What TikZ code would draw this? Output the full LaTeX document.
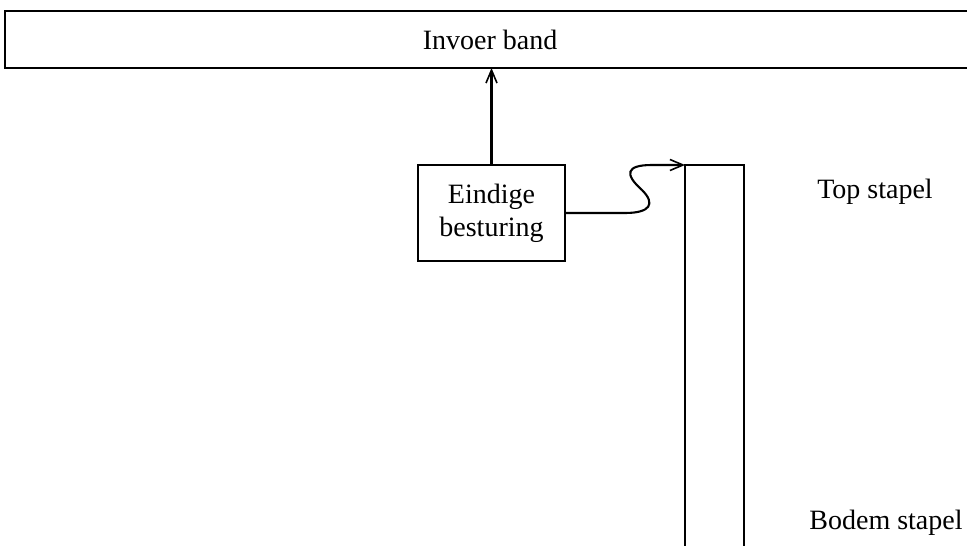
\documentclass[tikz,border=0pt]{standalone}
\usepackage{fontspec}
\setmainfont{Liberation Serif}
\usetikzlibrary{arrows.meta}
\begin{document}
\begin{tikzpicture}[x=1pt,y=-1pt,
  every node/.style={font=\fontsize{28}{33}\selectfont},
  ln/.style={line width=2.1pt},
  arr/.style={ln,-{Straight Barb[length=13pt,width=11pt,line width=1.6pt]}},
  boxn/.style={draw,ln,minimum width=147pt,minimum height=96pt,inner sep=0pt,align=center}]
\useasboundingbox (0,0) rectangle (967,546);
\node (band) at (490,39.5) {Invoer band};
\coordinate (bandTL) at (5,11);
\coordinate (bandBL) at (5,68);
\coordinate (bandTR) at (967,11);
\coordinate (bandBR) at (967,68);
\draw[ln] (bandTR) -- (bandTL) -- (bandBL) -- (bandBR);
\node[boxn] (ctrl) at (491.5,213) {Eindige\\besturing};
\coordinate (stTL) at (685,165);
\coordinate (stTR) at (744,165);
\coordinate (stBL) at (685,546);
\coordinate (stBR) at (744,546);
\draw[ln] (stBL) -- (stTL) -- (stTR) -- (stBR);
\draw[arr] (ctrl.north) -- (ctrl.north |- bandBL);
\draw[arr] (ctrl.east) -- (625,213) .. controls (650,213) and (656,204) .. (642,190)
  .. controls (624,174) and (626,165) .. (652,165) -- (stTL);
\node (top) at (875,192) {Top stapel};
\node (bodem) at (886,523) {Bodem stapel};
\end{tikzpicture}
\end{document}
